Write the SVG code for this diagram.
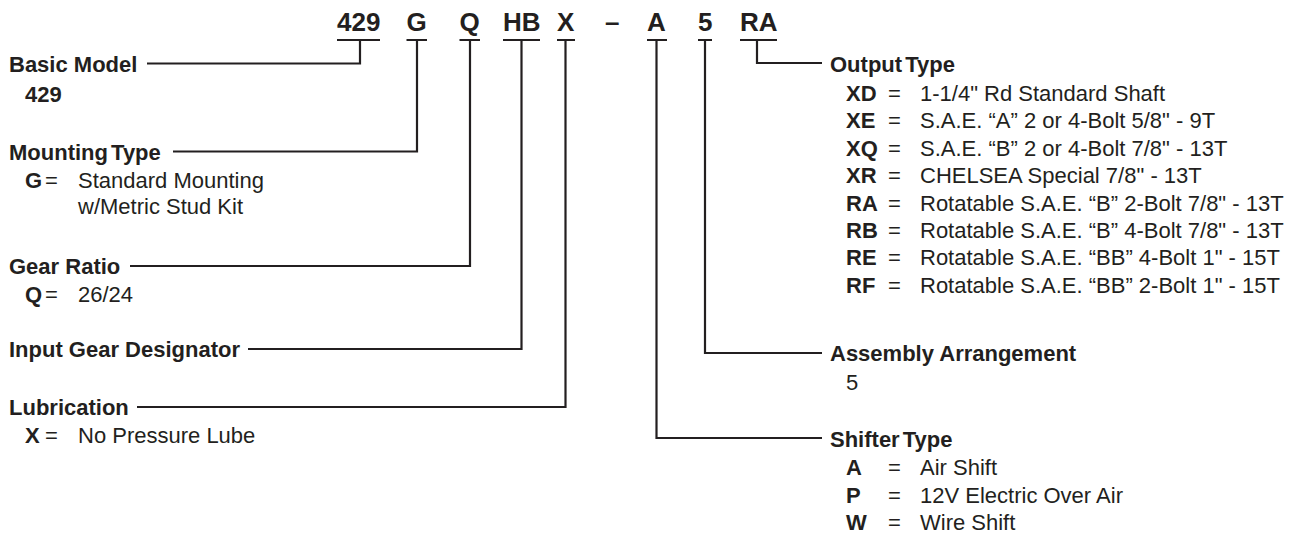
<svg xmlns="http://www.w3.org/2000/svg" width="1299" height="537" viewBox="0 0 1299 537">
<style>
text{font-family:"Liberation Sans",Arial,Helvetica,sans-serif;fill:#231f20;font-size:22px}
.code{font-size:26px;font-weight:bold}
.lbl{font-weight:bold}
.tight{word-spacing:-3px}
.b{font-weight:bold}
.ln{fill:none;stroke:#231f20;stroke-width:2.2}
</style>
<rect width="1299" height="537" fill="#ffffff"/>
<g id="code-row">
<text class="code" x="337" y="31">429</text>
<text class="code" x="406.5" y="31">G</text>
<text class="code" x="459.5" y="31">Q</text>
<text class="code" x="503" y="31">HB</text>
<text class="code" x="557" y="31">X</text>
<text class="code" x="605" y="31">–</text>
<text class="code" x="647" y="31">A</text>
<text class="code" x="698" y="31">5</text>
<text class="code" x="740" y="31">RA</text>
</g>
<g id="connectors">
<path class="ln" d="M337,40H380M360,40V63.5H147"/>
<path class="ln" d="M406.5,40H427M417,40V151.5H173"/>
<path class="ln" d="M459.5,40H480M470,40V266H130"/>
<path class="ln" d="M503,40H540M521.5,40V349H248"/>
<path class="ln" d="M557,40H575M565.5,40V407H137"/>
<path class="ln" d="M647,40H667M656.5,40V438H822"/>
<path class="ln" d="M698,40H712M705,40V353H822"/>
<path class="ln" d="M740,40H777M757,40V63H822"/>
</g>
<g id="basic-model">
<text class="lbl" x="9" y="72">Basic Model</text>
<text class="b" x="25" y="101.5">429</text>
</g>
<g id="mounting-type">
<text class="lbl tight" x="9" y="159.5">Mounting Type</text>
<text y="187.5"><tspan class="b" x="25">G</tspan><tspan x="45">=</tspan><tspan x="78">Standard Mounting</tspan></text>
<text x="78" y="214">w/Metric Stud Kit</text>
</g>
<g id="gear-ratio">
<text class="lbl" x="9" y="274">Gear Ratio</text>
<text y="302"><tspan class="b" x="25">Q</tspan><tspan x="45">=</tspan><tspan x="78">26/24</tspan></text>
</g>
<g id="input-gear-designator">
<text class="lbl" x="9" y="357">Input Gear Designator</text>
</g>
<g id="lubrication">
<text class="lbl" x="9" y="415">Lubrication</text>
<text y="443"><tspan class="b" x="25">X</tspan><tspan x="45">=</tspan><tspan x="78">No Pressure Lube</tspan></text>
</g>
<g id="output-type">
<text class="lbl tight" x="830" y="72">Output Type</text>
<text y="101"><tspan class="b" x="846">XD</tspan><tspan x="888">=</tspan><tspan x="920">1-1/4" Rd Standard Shaft</tspan></text>
<text y="128.4"><tspan class="b" x="846">XE</tspan><tspan x="888">=</tspan><tspan x="920">S.A.E. “A” 2 or 4-Bolt 5/8" - 9T</tspan></text>
<text y="155.8"><tspan class="b" x="846">XQ</tspan><tspan x="888">=</tspan><tspan x="920">S.A.E. “B” 2 or 4-Bolt 7/8" - 13T</tspan></text>
<text y="183.2"><tspan class="b" x="846">XR</tspan><tspan x="888">=</tspan><tspan x="920">CHELSEA Special 7/8" - 13T</tspan></text>
<text y="210.6"><tspan class="b" x="846">RA</tspan><tspan x="888">=</tspan><tspan x="920">Rotatable S.A.E. “B” 2-Bolt 7/8" - 13T</tspan></text>
<text y="238"><tspan class="b" x="846">RB</tspan><tspan x="888">=</tspan><tspan x="920">Rotatable S.A.E. “B” 4-Bolt 7/8" - 13T</tspan></text>
<text y="265.4"><tspan class="b" x="846">RE</tspan><tspan x="888">=</tspan><tspan x="920">Rotatable S.A.E. “BB” 4-Bolt 1" - 15T</tspan></text>
<text y="292.8"><tspan class="b" x="846">RF</tspan><tspan x="888">=</tspan><tspan x="920">Rotatable S.A.E. “BB” 2-Bolt 1" - 15T</tspan></text>
</g>
<g id="assembly-arrangement">
<text class="lbl" x="830" y="361">Assembly Arrangement</text>
<text x="846" y="389.5">5</text>
</g>
<g id="shifter-type">
<text class="lbl tight" x="830" y="446.5">Shifter Type</text>
<text y="475"><tspan class="b" x="846">A</tspan><tspan x="888">=</tspan><tspan x="920">Air Shift</tspan></text>
<text y="502.5"><tspan class="b" x="846">P</tspan><tspan x="888">=</tspan><tspan x="920">12V Electric Over Air</tspan></text>
<text y="530"><tspan class="b" x="846">W</tspan><tspan x="888">=</tspan><tspan x="920">Wire Shift</tspan></text>
</g>
</svg>
